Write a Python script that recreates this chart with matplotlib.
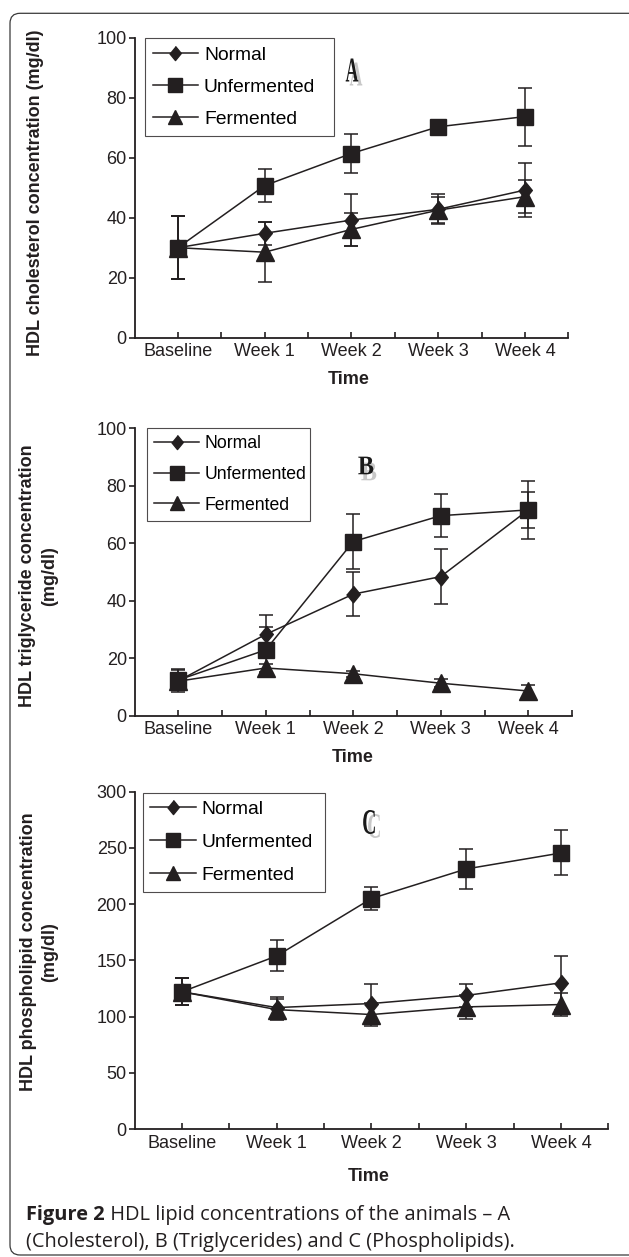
import numpy as np
import matplotlib
matplotlib.use('Agg')
import matplotlib.pyplot as plt
from matplotlib.lines import Line2D
from matplotlib.patches import FancyBboxPatch, PathPatch
from matplotlib.textpath import TextPath
from matplotlib.font_manager import FontProperties
from matplotlib.transforms import Affine2D, IdentityTransform

plt.rcParams['font.family'] = ['Liberation Sans', 'DejaVu Sans']

# data
times = ['Baseline', 'Week 1', 'Week 2', 'Week 3', 'Week 4']
groups = ['Normal', 'Unfermented', 'Fermented']

chol_normal = [30, 34.8, 39.2, 42.8, 49.2]
chol_normal_err = [10.5, 3.9, 8.6, 5.0, 9.0]
chol_unferm = [30, 50.7, 61.4, 70.3, 73.7]
chol_unferm_err = [10.5, 5.6, 6.5, 1.2, 9.7]
chol_ferm = [30, 28.5, 36.1, 42.5, 47.0]
chol_ferm_err = [10.5, 10.0, 5.5, 4.3, 5.5]

tg_normal = [12.1, 28.3, 42.3, 48.4, 71.6]
tg_normal_err = [4.0, 6.7, 7.7, 9.7, 6.3]
tg_unferm = [12.4, 22.9, 60.6, 69.6, 71.6]
tg_unferm_err = [3.5, 8.0, 9.5, 7.4, 10.0]
tg_ferm = [12.0, 16.6, 14.6, 11.3, 8.6]
tg_ferm_err = [3.0, 1.5, 1.0, 1.4, 2.0]

pl_normal = [122, 108, 111.6, 118.8, 130]
pl_normal_err = [12, 9, 17.6, 10, 24]
pl_unferm = [122, 153.9, 205, 231.3, 245.5]
pl_unferm_err = [12, 13.8, 10, 18, 20]
pl_ferm = [122, 106.2, 101.8, 108.6, 110.7]
pl_ferm_err = [12, 9, 10, 11, 10]

W, H = 629, 1257
fig = plt.figure(figsize=(W / 100, H / 100), dpi=100)

ink = '#231f20'
diamond = [(0, 1), (0.82, 0), (0, -1), (-0.82, 0)]
markers = {'Normal': (diamond, 12), 'Unfermented': ('s', 12), 'Fermented': ('^', 12.5)}


def px_axes(left, right, top, bottom):
    # pixel box (top-origin) -> figure fraction
    return [left / W, 1 - bottom / H, (right - left) / W, (bottom - top) / H]


def panel(rect, series, ymax, ystep, ylabel, ylab_xy, time_xy, leg_box, leg_fs, leg_sp, hlen):
    ax = fig.add_axes(px_axes(*rect))
    x = np.arange(len(times))
    handles = []
    for name, vals, errs in series:
        m, ms = markers[name]
        ax.errorbar(x, vals, yerr=errs, fmt='none', ecolor=ink, elinewidth=1.1,
                    capsize=4.7, capthick=1.1, zorder=2)
        ax.plot(x, vals, color=ink, lw=1.1, marker=m, ms=ms, mfc=ink, mec=ink, zorder=3)
        handles.append(Line2D([], [], color=ink, lw=1.1, marker=m, ms=ms * 0.85,
                              mfc=ink, mec=ink, label=name))
    ax.set_xlim(-0.5, 4.5)
    ax.set_ylim(0, ymax)
    ax.set_yticks(np.arange(0, ymax + 1, ystep))
    ax.set_xticks(x)
    ax.set_xticklabels(times)
    ax.set_xticks(np.arange(0.5, 5, 1), minor=True)
    for s in ['top', 'right']:
        ax.spines[s].set_visible(False)
    for s in ['left', 'bottom']:
        ax.spines[s].set_linewidth(1.3)
        ax.spines[s].set_color(ink)
    ax.tick_params(axis='y', direction='out', length=4, width=1.2, pad=1.5,
                   labelsize=13, colors=ink)
    ax.tick_params(axis='x', which='both', direction='in', length=4, width=1.2, pad=4,
                   labelsize=13, colors=ink)
    ax.set_ylabel(ylabel, fontsize=13, fontweight='bold', linespacing=1.35, color=ink)
    ax.yaxis.set_label_coords(*ylab_xy)
    ax.set_xlabel('Time', fontsize=13, fontweight='bold', color=ink)
    ax.xaxis.set_label_coords(*time_xy)
    ax.xaxis.label.set_va('center')
    x0, top, w = leg_box
    leg = ax.legend(handles=handles, loc='upper left', bbox_to_anchor=(x0, top - 0.3, w, 0.3),
                    mode='expand', borderaxespad=0, fancybox=False, frameon=True,
                    fontsize=leg_fs, labelspacing=leg_sp, handlelength=hlen,
                    handletextpad=0.3, borderpad=0.4)
    leg.get_frame().set_edgecolor(ink)
    leg.get_frame().set_linewidth(0.8)
    return ax


# A: cholesterol
panel((134.5, 568.3, 37.7, 337.7),
      [('Normal', chol_normal, chol_normal_err),
       ('Unfermented', chol_unferm, chol_unferm_err),
       ('Fermented', chol_ferm, chol_ferm_err)],
      100, 20, 'HDL cholesterol concentration (mg/dl)',
      (-0.2086, 0.484), (0.4935, -0.141),
      (0.024, 0.998, 0.436), 13.9, 0.76, 2.36)

# B: triglyceride
panel((134.5, 572, 428.3, 715.7),
      [('Normal', tg_normal, tg_normal_err),
       ('Unfermented', tg_unferm, tg_unferm_err),
       ('Fermented', tg_ferm, tg_ferm_err)],
      100, 20, 'HDL triglyceride concentration\n(mg/dl)',
      (-0.175, 0.486), (0.4994, -0.147),
      (0.028, 1.0, 0.372), 12.7, 0.77, 2.58)

# C: phospholipid
panel((134.5, 608.4, 791.7, 1129),
      [('Normal', pl_normal, pl_normal_err),
       ('Unfermented', pl_unferm, pl_unferm_err),
       ('Fermented', pl_ferm, pl_ferm_err)],
      300, 50, 'HDL phospholipid concentration\n(mg/dl)',
      (-0.161, 0.525), (0.494, -0.1414),
      (0.017, 0.997, 0.385), 13.9, 0.81, 2.36)


def panel_letter(ch, cx, cy, w, h, dx, dy):
    prop = FontProperties(family='Liberation Serif', weight='bold')
    tp = TextPath((0, 0), ch, size=40, prop=prop)
    ext = tp.get_extents()
    for ox, oy, col, z in [(dx, dy, '#c8c8c8', 5), (0, 0, '#1a1a1a', 6)]:
        tr = (Affine2D().translate(-ext.x0 - ext.width / 2, -ext.y0 - ext.height / 2)
              .scale(w / ext.width, h / ext.height)
              .translate(cx + ox, H - (cy + oy)))
        fig.add_artist(PathPatch(tr.transform_path(tp), transform=IdentityTransform(),
                                 facecolor=col, edgecolor='none', zorder=z))


panel_letter('A', 352, 70, 12.6, 23, 4, 4)
panel_letter('B', 365.8, 465.5, 15, 17.7, 3, 6)
panel_letter('C', 369, 822, 11.7, 24, 5, 4)

# caption
cap_fs = 14.4
t1 = fig.text(26 / W, 1 - 1215 / H, 'Figure 2', fontsize=cap_fs, fontweight='bold',
              family='Open Sans', va='center', color=ink)
r = fig.canvas.get_renderer()
bb = t1.get_window_extent(r)
fig.text(bb.x1 / W, 1 - 1215 / H, ' HDL lipid concentrations of the animals \u2013 A',
         fontsize=cap_fs, family='Open Sans', va='center', color=ink)
fig.text(26 / W, 1 - 1241.7 / H, '(Cholesterol), B (Triglycerides) and C (Phospholipids).',
         fontsize=cap_fs, family='Open Sans', va='center', color=ink)

# rounded frame around the figure (right side runs off the image)
frame = FancyBboxPatch((10, 2), 640, H - 13.3 - 2, boxstyle='round,pad=0,rounding_size=10',
                       transform=IdentityTransform(), facecolor='none',
                       edgecolor='#3a3a3a', linewidth=0.9)
fig.add_artist(frame)

fig.savefig('out.png', dpi=100)
